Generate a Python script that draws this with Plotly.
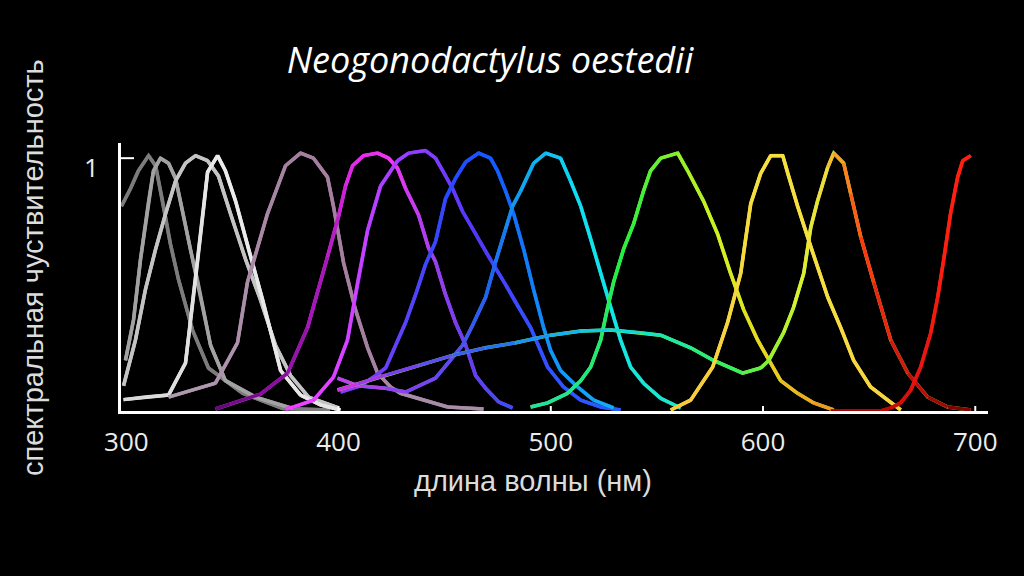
import plotly.graph_objects as go

# spectral sensitivity curves (wavelength nm, relative sensitivity)
gray1_nm = [297.7, 302, 305.7, 310.5, 313.8, 317.1, 320.8, 324.6, 331.2, 338.7, 354.8, 373.6, 396]
gray1_val = [0.81, 0.88, 0.95, 1.01, 0.97, 0.83, 0.66, 0.52, 0.32, 0.17, 0.07, 0.01, 0.004]

gray2_nm = [299.6, 303.4, 306.7, 310.5, 312.8, 316.1, 319.9, 323.2, 326.5, 330.2, 333.5, 339.7, 346.7, 360.9, 378.3]
gray2_val = [0.20, 0.36, 0.60, 0.83, 0.95, 1.0, 0.98, 0.92, 0.79, 0.64, 0.52, 0.26, 0.12, 0.055, 0.01]

gray3_nm = [298.7, 304.3, 309, 313.8, 318.5, 323.2, 327.9, 332.6, 338.3, 343.4, 349.1, 356.2, 363.2, 370.3, 377.4, 385.9, 400]
gray3_val = [0.10, 0.28, 0.48, 0.64, 0.78, 0.91, 0.98, 1.01, 0.99, 0.93, 0.78, 0.60, 0.44, 0.26, 0.14, 0.055, 0.012]

white_nm = [298.7, 309, 319.9, 327.9, 332.6, 336.4, 338.3, 343, 346.7, 351.5, 357.6, 364.2, 372.7, 382.1, 391.5, 400.9]
white_val = [0.045, 0.055, 0.063, 0.19, 0.52, 0.80, 0.945, 1.01, 0.95, 0.83, 0.64, 0.44, 0.16, 0.063, 0.024, 0.004]

mauve_nm = [319.9, 342, 352.4, 357.1, 366.5, 375, 382.1, 388.2, 394.8, 397.6, 402.4, 408, 413.7, 418.4, 424.5, 429.2, 451.4, 468.3]
mauve_val = [0.055, 0.11, 0.27, 0.51, 0.78, 0.97, 1.02, 1.0, 0.925, 0.81, 0.585, 0.40, 0.25, 0.15, 0.095, 0.07, 0.016, 0.008]

magenta_nm = [342, 349.1, 363.2, 376, 385.4, 394.8, 400, 403.3, 406.6, 411.8, 418.4, 423.6, 427.8, 431.6, 437.7,
              442.4, 445.7, 450.4, 455.1, 459.9, 464.6, 469.3, 475.4, 482]
magenta_val = [0.008, 0.028, 0.067, 0.15, 0.33, 0.61, 0.77, 0.89, 0.97, 1.01, 1.02, 1.0, 0.96, 0.88, 0.775,
               0.645, 0.59, 0.46, 0.35, 0.26, 0.14, 0.09, 0.036, 0.012]

violet_nm = [375, 378.8, 388.2, 397.6, 404.2, 409, 413.7, 419.8, 427.8, 433, 441, 445.7, 449.5, 453.7, 458.4,
             463.2, 469.3, 474, 478.7, 483.4, 490.5, 498.5, 506, 514.1, 523.5, 532.9]
violet_val = [0.008, 0.016, 0.043, 0.134, 0.28, 0.51, 0.715, 0.89, 0.99, 1.02, 1.03, 1.0, 0.945, 0.88, 0.79,
              0.72, 0.63, 0.565, 0.50, 0.43, 0.33, 0.174, 0.095, 0.043, 0.016, 0.004]

blue_nm = [400.9, 410.4, 417.4, 422.2, 426.9, 431.6, 436.3, 441, 445.7, 450.4, 455.1, 459.9, 466, 471.6, 474.9,
           478.7, 482.5, 487.2, 491.9, 496.6, 499.9, 504.6, 512.6, 520.2, 529.6]
blue_val = [0.075, 0.10, 0.14, 0.17, 0.26, 0.35, 0.46, 0.58, 0.67, 0.84, 0.92, 0.985, 1.02, 1.0, 0.95,
            0.87, 0.78, 0.64, 0.48, 0.33, 0.24, 0.16, 0.095, 0.043, 0.012]

cyan_nm = [399.5, 409, 422.2, 431.6, 445.7, 453.7, 458.4, 463.2, 469.3, 474, 478.7, 482, 485.8, 491.9, 497.6,
           504.6, 509.3, 514.1, 518.8, 523.5, 528.2, 532.9, 537.6, 543.7, 551.8, 561.2]
cyan_val = [0.13, 0.10, 0.09, 0.075, 0.13, 0.21, 0.26, 0.34, 0.45, 0.59, 0.72, 0.81, 0.87, 0.98, 1.02,
            1.0, 0.91, 0.81, 0.68, 0.545, 0.41, 0.28, 0.174, 0.11, 0.05, 0.012]

green_nm = [490.5, 498.5, 507.9, 514.1, 518.8, 523.5, 526.8, 529.6, 534.3, 539, 543.7, 547, 551.8, 559.8, 564.5,
            572, 578.6, 584.7, 590.9, 597.5, 602.2, 608.3, 616.3, 623.9, 633.3]
green_val = [0.016, 0.032, 0.07, 0.12, 0.174, 0.28, 0.41, 0.51, 0.64, 0.74, 0.87, 0.95, 1.0, 1.02, 0.95,
             0.83, 0.70, 0.545, 0.40, 0.28, 0.21, 0.12, 0.07, 0.032, 0.004]

orange_nm = [399.5, 409, 422.2, 437.7, 453.7, 469.3, 483.4, 499.9, 514.1, 528.2, 542.3, 551.8, 565.9, 576.7,
             590.4, 598.9, 602.7, 609.7, 614.4, 619.2, 622.5, 625.8, 630.5, 633.3, 638, 641.3, 646, 652.1,
             660.2, 668.2, 677.6, 687, 697.9]
orange_val = [0.083, 0.107, 0.142, 0.18, 0.22, 0.25, 0.27, 0.30, 0.316, 0.32, 0.31, 0.30, 0.25, 0.20,
              0.15, 0.17, 0.20, 0.31, 0.41, 0.545, 0.727, 0.834, 0.964, 1.02, 0.98, 0.86, 0.69, 0.51,
              0.28, 0.15, 0.055, 0.016, 0.004]

yellow_nm = [556.5, 565.9, 576.3, 583.3, 589.5, 594.2, 598.9, 603.6, 609.3, 611.6, 616.3, 622.5, 630.5, 636.6,
             642.7, 650.7, 658.7, 664.9]
yellow_val = [0.004, 0.043, 0.174, 0.35, 0.545, 0.82, 0.94, 1.01, 1.01, 0.94, 0.81, 0.65, 0.45, 0.33,
              0.20, 0.095, 0.043, 0.004]

red_nm = [631.9, 655.4, 660.2, 664.9, 669.6, 674.3, 679, 682.3, 685.1, 688.4, 691.7, 694.1, 697.9]
red_val = [0.0, 0.0, 0.012, 0.032, 0.083, 0.174, 0.308, 0.45, 0.597, 0.783, 0.925, 0.99, 1.01]

x_ticks = [300, 400, 500, 600, 700]

# colour stops spread along each curve (start -> end)
curves = [
    (gray1_nm, gray1_val, ["#7c7c7c"]),
    (gray2_nm, gray2_val, ["#a2a2a2"]),
    (gray3_nm, gray3_val, ["#c4c4c4"]),
    (white_nm, white_val, ["#d8d8d8", "#ececec", "#e4e4e4"]),
    (mauve_nm, mauve_val, ["#b09cb0", "#a47fa0", "#a47fa0", "#a890a8"]),
    (magenta_nm, magenta_val, ["#5a0a70", "#9a14b0", "#e028e8", "#f038f0", "#a040f0", "#6040f0", "#3050ff"]),
    (violet_nm, violet_val, ["#ff40ff", "#d040ff", "#8a3cff", "#5038f8", "#3050ff", "#2060ff"]),
    (blue_nm, blue_val, ["#9038f0", "#6040f8", "#2848ff", "#1060ff", "#1090f0", "#10b0f0"]),
    (cyan_nm, cyan_val, ["#d040e0", "#7040f0", "#2060f0", "#10a8f0", "#10e0f0", "#10e8e0", "#20e8c0"]),
    (green_nm, green_val, ["#20e0b0", "#20e880", "#20f040", "#70f030", "#d8f020", "#f0d020", "#f09020"]),
    (orange_nm, orange_val, ["#e030e0", "#7040f0", "#2070f0", "#10c0f0", "#10e8c0", "#30f060", "#90f030",
                             "#e0f030", "#f0e040", "#ff9020", "#ff3010", "#c01010", "#700000"]),
    (yellow_nm, yellow_val, ["#f8c838", "#f5e040", "#f5e040", "#f8d040"]),
    (red_nm, red_val, ["#a00000", "#e01010", "#ff2010", "#ff2010"]),
]


def hex_rgb(h):
    return [int(h[i:i + 2], 16) for i in (1, 3, 5)]


def segment_colors(stops, n):
    if len(stops) == 1:
        return stops * n
    out = []
    for i in range(n):
        t = (i + 0.5) / n * (len(stops) - 1)
        k = min(int(t), len(stops) - 2)
        f = t - k
        a, b = hex_rgb(stops[k]), hex_rgb(stops[k + 1])
        c = [round(a[j] + (b[j] - a[j]) * f) for j in range(3)]
        out.append("rgb(%d,%d,%d)" % tuple(c))
    return out


fig = go.Figure()

for xs, ys, stops in curves:
    cols = segment_colors(stops, len(xs) - 1)
    # full polyline underneath fills the joins between coloured segments
    fig.add_trace(go.Scatter(x=xs, y=ys, mode="lines", line=dict(color=cols[len(cols) // 2], width=3.5),
                             hoverinfo="skip", showlegend=False))
    for i in range(len(xs) - 1):
        fig.add_trace(go.Scatter(x=xs[i:i + 2], y=ys[i:i + 2], mode="lines",
                                 line=dict(color=cols[i], width=3.5),
                                 hoverinfo="skip", showlegend=False))

# cross-shaped ticks
for t in x_ticks[1:]:
    fig.add_shape(type="line", xref="x", yref="y", x0=t, x1=t, ysizemode="pixel", yanchor=0,
                  y0=-12, y1=5, line=dict(color="white", width=2))
fig.add_shape(type="line", xref="x", yref="y", xsizemode="pixel", xanchor=297.5, x0=-13, x1=13,
              y0=1, y1=1, line=dict(color="white", width=2))

fig.update_layout(
    width=1024, height=576,
    paper_bgcolor="black", plot_bgcolor="black",
    margin=dict(l=121, r=36, t=143, b=165),
    title=dict(text="Neogonodactylus oestedii", x=490 / 1024, xanchor="center",
               y=1 - 60 / 576, yanchor="middle",
               font=dict(family="Open Sans", size=36, color="white", style="italic")),
    showlegend=False,
)
fig.update_xaxes(range=[297.5, 706], showgrid=False, zeroline=False, showline=True,
                 linecolor="white", linewidth=3, tickvals=x_ticks, ticks="",
                 ticklabelstandoff=6,
                 tickfont=dict(family="Open Sans", size=26, color="#ececec"))
fig.update_yaxes(range=[0, 1.06], showgrid=False, zeroline=False, showline=True,
                 linecolor="white", linewidth=3, tickvals=[1], ticktext=["1"], ticks="",
                 ticklabelstandoff=14, ticklabelshift=10,
                 tickfont=dict(family="Open Sans", size=26, color="#ececec"))

fig.add_annotation(text="длина волны (нм)", xref="paper", yref="paper",
                   x=(533 - 121) / 867, y=(411 - 481) / 268, xanchor="center", yanchor="middle",
                   showarrow=False, font=dict(family="Liberation Sans", size=29, color="#dcdcdc"))
fig.add_annotation(text="спектральная чуствительность", xref="paper", yref="paper",
                   x=(33 - 121) / 867, y=(411 - 268) / 268, xanchor="center", yanchor="middle",
                   showarrow=False, textangle=-90,
                   font=dict(family="Liberation Sans", size=29, color="#dcdcdc"))

fig.write_html("out.html", config={"displayModeBar": False},
               post_script="document.body.style.margin='0';")
